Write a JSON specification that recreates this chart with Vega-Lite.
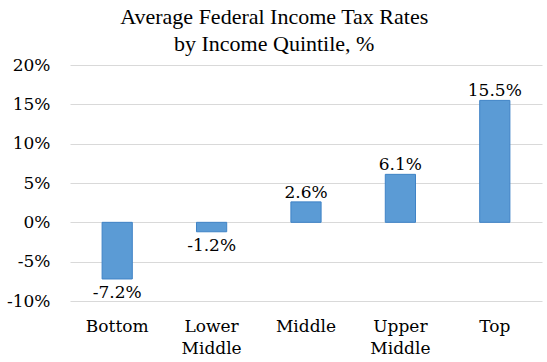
{
  "$schema": "https://vega.github.io/schema/vega-lite/v6.json",
  "width": 472,
  "height": 236,
  "autosize": "none",
  "padding": {"left": 70, "top": 65, "right": 5, "bottom": 61},
  "background": "white",
  "config": {
    "view": {"stroke": null}
  },
  "title": {
    "text": ["Average Federal Income Tax Rates", "by Income Quintile, %"],
    "font": "Liberation Serif",
    "fontSize": 22,
    "fontWeight": "normal",
    "color": "#000000",
    "anchor": "middle",
    "frame": "bounds",
    "lineHeight": 27,
    "offset": 0
  },
  "data": {
    "values": [
      {"quintile": "Bottom", "value": -7.2},
      {"quintile": "Lower Middle", "value": -1.2},
      {"quintile": "Middle", "value": 2.6},
      {"quintile": "Upper Middle", "value": 6.1},
      {"quintile": "Top", "value": 15.5}
    ]
  },
  "encoding": {
    "x": {
      "field": "quintile",
      "type": "nominal",
      "sort": null,
      "scale": {"paddingInner": 0.68, "paddingOuter": 0.34},
      "axis": {
        "title": null,
        "labelAngle": 0,
        "labelExpr": "split(datum.label, ' ')",
        "labelFont": "DejaVu Serif",
        "labelFontSize": 17,
        "labelColor": "#000000",
        "labelLineHeight": 22,
        "labelPadding": 17,
        "ticks": false,
        "domain": false,
        "grid": false
      }
    },
    "y": {
      "field": "value",
      "type": "quantitative",
      "scale": {"domain": [-10, 20], "nice": false, "zero": false},
      "axis": {
        "title": null,
        "values": [-10, -5, 0, 5, 10, 15, 20],
        "labelExpr": "datum.value + '%'",
        "labelFont": "DejaVu Serif",
        "labelFontSize": 17,
        "labelColor": "#000000",
        "labelPadding": 20,
        "ticks": false,
        "domain": false,
        "grid": true,
        "gridColor": "#D9D9D9",
        "gridWidth": 1
      }
    }
  },
  "layer": [
    {
      "mark": {"type": "bar", "color": "#5B9BD5", "stroke": "#3F83C6", "strokeWidth": 1},
      "encoding": {"y2": {"datum": 0}}
    },
    {
      "transform": [{"filter": "datum.value >= 0"}],
      "mark": {"type": "text", "font": "DejaVu Serif", "fontSize": 17, "color": "#000000", "baseline": "alphabetic", "dy": -4, "text": {"expr": "datum.value + '%'"}},
      "encoding": {}
    },
    {
      "transform": [{"filter": "datum.value < 0"}],
      "mark": {"type": "text", "font": "DejaVu Serif", "fontSize": 17, "color": "#000000", "baseline": "top", "dy": 6, "text": {"expr": "datum.value + '%'"}},
      "encoding": {}
    }
  ]
}
